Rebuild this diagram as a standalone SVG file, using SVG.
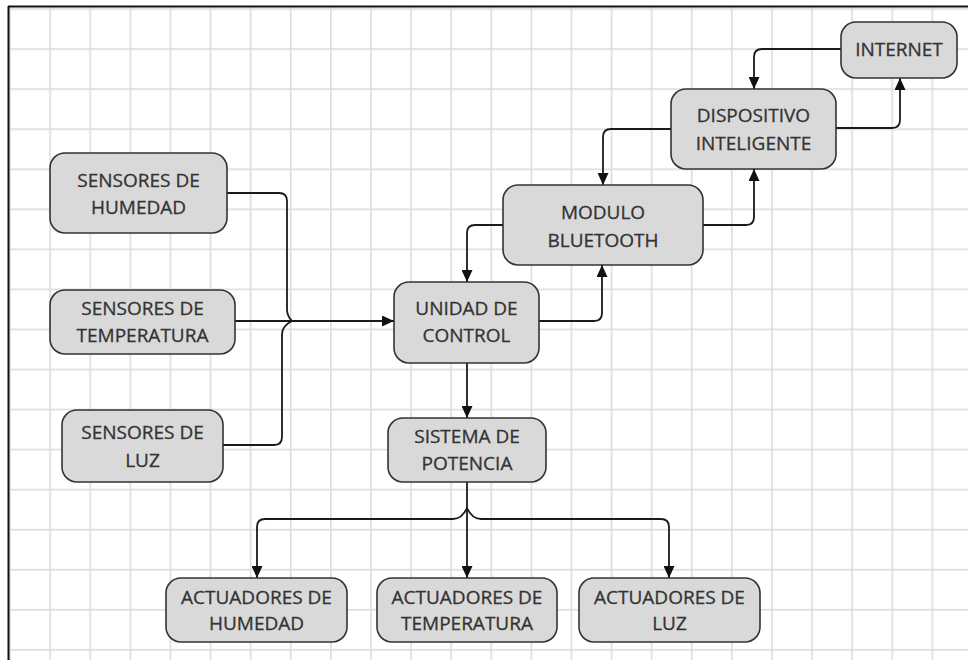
<svg xmlns="http://www.w3.org/2000/svg" width="968" height="660" viewBox="0 0 968 660">
  <style>
    .box { fill: #d9d9d9; stroke: #333333; stroke-width: 1.6; }
    .lbl { font-family: "Open Sans", "Noto Sans", "DejaVu Sans", sans-serif; font-size: 19px; fill: #333333; stroke: #333333; stroke-width: 0.3; text-anchor: middle; }
    .wire { fill: none; stroke: #1a1a1a; stroke-width: 1.8; }
    .arrow { marker-end: url(#head); }
  </style>
  <defs>
    <pattern id="grid" patternUnits="userSpaceOnUse" x="9.2" y="8.2" width="40.1" height="40.05">
      <rect x="0" y="0" width="1.6" height="40.05" fill="#dcdcdc"/>
      <rect x="0" y="0" width="40.1" height="1.6" fill="#dcdcdc"/>
    </pattern>
    <marker id="head" viewBox="0 0 12 11" refX="12" refY="5.5" markerWidth="12" markerHeight="11" markerUnits="userSpaceOnUse" orient="auto">
      <path d="M0,0 L12,5.5 L0,11 Z" fill="#111111"/>
    </marker>
  </defs>

  <!-- sheet background, grid and frame -->
  <rect x="0" y="0" width="968" height="660" fill="#ffffff"/>
  <rect x="9" y="7" width="959" height="653" fill="url(#grid)"/>
  <line x1="8" y1="6.5" x2="968" y2="6.5" stroke="#111111" stroke-width="2"/>
  <line x1="8.5" y1="6" x2="8.5" y2="660" stroke="#111111" stroke-width="2"/>

  <!-- connectors -->
  <g id="connectors">
    <path class="wire" d="M227,193 H279 Q287,193 287,201 V309 Q287,316 292,321"/>
    <path class="wire" d="M223,445 H274 Q282,445 282,437 V334 Q282,326 292,321"/>
    <path class="wire arrow" d="M235,321 H394"/>
    <path class="wire arrow" d="M539,321 H594 Q602,321 602,313 V265"/>
    <path class="wire arrow" d="M503,225 H475 Q467,225 467,233 V282"/>
    <path class="wire arrow" d="M467,363 V418"/>
    <path class="wire arrow" d="M671,129 H611 Q603,129 603,137 V185"/>
    <path class="wire arrow" d="M703,225 H746 Q754,225 754,217 V169"/>
    <path class="wire arrow" d="M836,128 H892 Q900,128 900,120 V78"/>
    <path class="wire arrow" d="M841,49 H762 Q754,49 754,57 V89"/>
    <path class="wire arrow" d="M467,482 V578"/>
    <path class="wire arrow" d="M467,508 Q462,519 453,519 H265 Q257,519 257,527 V578"/>
    <path class="wire arrow" d="M467,508 Q472,519 481,519 H661 Q669,519 669,527 V578"/>
  </g>

  <!-- nodes -->
  <g id="sensores-humedad">
    <rect class="box" x="50" y="153" width="177" height="80" rx="15"/>
    <text class="lbl" x="138.5" y="187">SENSORES DE</text>
    <text class="lbl" x="138.5" y="214">HUMEDAD</text>
  </g>
  <g id="sensores-temperatura">
    <rect class="box" x="50" y="290" width="185" height="64" rx="15"/>
    <text class="lbl" x="142.5" y="315">SENSORES DE</text>
    <text class="lbl" x="142.5" y="342">TEMPERATURA</text>
  </g>
  <g id="sensores-luz">
    <rect class="box" x="62" y="410" width="161" height="72" rx="15"/>
    <text class="lbl" x="142.5" y="439">SENSORES DE</text>
    <text class="lbl" x="142.5" y="467">LUZ</text>
  </g>
  <g id="unidad-control">
    <rect class="box" x="394" y="282" width="145" height="81" rx="15"/>
    <text class="lbl" x="466.5" y="315">UNIDAD DE</text>
    <text class="lbl" x="466.5" y="342">CONTROL</text>
  </g>
  <g id="modulo-bluetooth">
    <rect class="box" x="503" y="185" width="200" height="80" rx="15"/>
    <text class="lbl" x="603" y="219">MODULO</text>
    <text class="lbl" x="603" y="247">BLUETOOTH</text>
  </g>
  <g id="dispositivo-inteligente">
    <rect class="box" x="671" y="89" width="165" height="80" rx="15"/>
    <text class="lbl" x="753.5" y="122">DISPOSITIVO</text>
    <text class="lbl" x="753.5" y="150">INTELIGENTE</text>
  </g>
  <g id="internet">
    <rect class="box" x="841" y="22" width="116" height="56" rx="15"/>
    <text class="lbl" x="899" y="56">INTERNET</text>
  </g>
  <g id="sistema-potencia">
    <rect class="box" x="388" y="418" width="158" height="64" rx="15"/>
    <text class="lbl" x="467" y="443">SISTEMA DE</text>
    <text class="lbl" x="467" y="470">POTENCIA</text>
  </g>
  <g id="actuadores-humedad">
    <rect class="box" x="166" y="578" width="181" height="64" rx="15"/>
    <text class="lbl" x="256.5" y="604">ACTUADORES DE</text>
    <text class="lbl" x="256.5" y="630">HUMEDAD</text>
  </g>
  <g id="actuadores-temperatura">
    <rect class="box" x="377" y="578" width="180" height="64" rx="15"/>
    <text class="lbl" x="467" y="604">ACTUADORES DE</text>
    <text class="lbl" x="467" y="630">TEMPERATURA</text>
  </g>
  <g id="actuadores-luz">
    <rect class="box" x="579" y="578" width="181" height="64" rx="15"/>
    <text class="lbl" x="669.5" y="604">ACTUADORES DE</text>
    <text class="lbl" x="669.5" y="630">LUZ</text>
  </g>
</svg>
